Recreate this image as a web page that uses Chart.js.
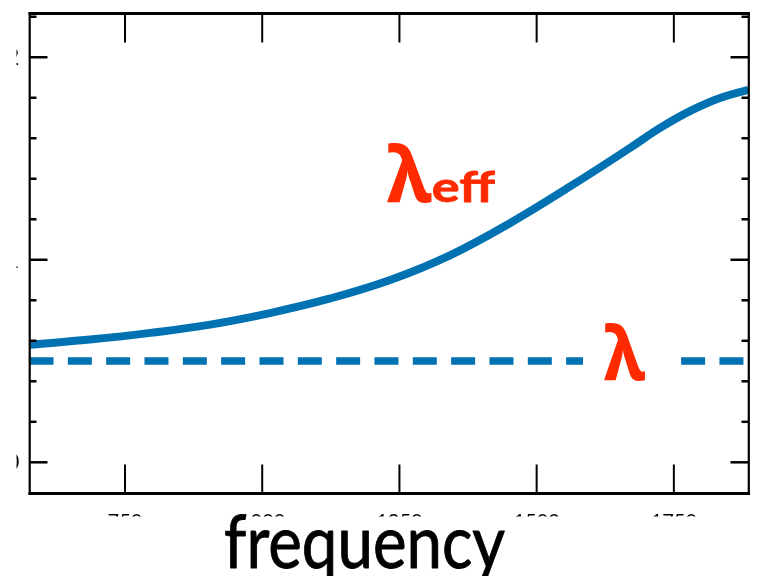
<!DOCTYPE html>
<html>
<head>
<meta charset="utf-8">
<script src="https://cdn.jsdelivr.net/npm/chart.js@4/dist/chart.umd.min.js"></script>
<style>
  html, body { margin: 0; padding: 0; background: #fff; }
  #wrap { width: 763px; height: 576px; position: relative; }
</style>
</head>
<body>
<div id="wrap"><canvas id="c"></canvas></div>
<script>
// Effective wavelength against frequency
const frequency = [576, 686, 796, 905, 1014, 1124, 1233, 1342, 1452, 1561, 1670, 1725, 1780, 1834, 1886];
const lambdaEff = [0.580, 0.606, 0.639, 0.680, 0.737, 0.809, 0.900, 1.022, 1.182, 1.362, 1.552, 1.651, 1.735, 1.799, 1.839];

// Bare wavelength: flat
const lambdaFreq = [576, 1886];
const lambdaBare = [0.5, 0.5];

// Axis ticks
const xTicks = [750, 1000, 1250, 1500, 1750];
const xTickLabels = ['750', '1000', '1250', '1500', '1750'];
const yTicks = [0, 1, 2];
const yTickLabels = ['0', '1', '2'];
const yMinorTicks = [0.2, 0.4, 0.6, 0.8, 1.2, 1.4, 1.6, 1.8, 2.2];

const BLUE = '#0072b2';
const RED = '#ff2a00';

// Draw text stretched to fill a box: [x0, x1] horizontally, glyph top to baseline vertically
function fitText(ctx, text, font, x0, x1, top, base, color, extraStroke) {
  ctx.save();
  ctx.font = font;
  ctx.textAlign = 'left';
  ctx.textBaseline = 'alphabetic';
  const m = ctx.measureText(text);
  const w = m.actualBoundingBoxLeft + m.actualBoundingBoxRight;
  const h = m.actualBoundingBoxAscent;
  ctx.translate(x0, base);
  ctx.scale((x1 - x0) / w, (base - top) / h);
  ctx.fillStyle = color;
  ctx.fillText(text, m.actualBoundingBoxLeft, 0);
  if (extraStroke) {
    ctx.strokeStyle = color;
    ctx.lineWidth = extraStroke;
    ctx.lineJoin = 'round';
    ctx.strokeText(text, m.actualBoundingBoxLeft, 0);
  }
  ctx.restore();
}

function seg(ctx, x1, y1, x2, y2) {
  ctx.beginPath();
  ctx.moveTo(x1, y1);
  ctx.lineTo(x2, y2);
  ctx.stroke();
}

const decorations = {
  id: 'decorations',
  afterDatasetsDraw(chart) {
    const ctx = chart.ctx;
    // label sitting on the dashed line
    ctx.save();
    ctx.fillStyle = '#fff';
    ctx.fillRect(583, 348, 85, 26);
    ctx.restore();
    fitText(ctx, 'λ', 'bold 80px "Noto Sans"', 604, 645, 321, 380, RED);
    // label above the curve
    fitText(ctx, 'λ', 'bold 80px "Noto Sans"', 387, 431.5, 142, 201.5, RED);
    fitText(ctx, 'eff', 'bold 44px Lato', 433, 495, 170, 201.5, RED, 0.8);
  },
  afterDraw(chart) {
    const ctx = chart.ctx;
    const { left, right, top, bottom } = chart.chartArea;
    const xs = chart.scales.x, ys = chart.scales.y;
    ctx.save();
    // clip the outer tick labels
    ctx.fillStyle = '#fff';
    ctx.fillRect(0, 0, 16.5, chart.height);
    ctx.fillRect(0, 516.5, chart.width, chart.height - 516.5);

    ctx.strokeStyle = '#000';
    ctx.lineCap = 'butt';
    // inward ticks, left and right
    ctx.lineWidth = 2.5;
    yTicks.forEach(v => {
      const p = ys.getPixelForValue(v);
      seg(ctx, left, p, left + 18, p);
      seg(ctx, right - 18, p, right, p);
    });
    yMinorTicks.forEach(v => {
      const p = ys.getPixelForValue(v);
      seg(ctx, left, p, left + 7, p);
      seg(ctx, right - 7, p, right, p);
    });
    // inward ticks, bottom and top
    ctx.lineWidth = 2;
    xTicks.forEach(v => {
      const p = xs.getPixelForValue(v);
      seg(ctx, p, bottom, p, bottom - 29);
      seg(ctx, p, top, p, top + 29);
    });
    // frame
    ctx.lineWidth = 2.2;
    seg(ctx, left + 0.2, top - 1.5, left + 0.2, bottom + 1.5);
    seg(ctx, right + 0.3, top - 1.5, right + 0.3, bottom + 1.5);
    ctx.lineWidth = 3;
    seg(ctx, left - 1, top, right + 1.5, top);
    seg(ctx, left - 1, bottom, right + 1.5, bottom);
    ctx.restore();

    // axis title
    fitText(ctx, 'frequency', '72px Lato', 225, 505, 514.5, 568, '#000', 0.9);
  }
};

new Chart(document.getElementById('c'), {
  type: 'line',
  data: {
    datasets: [
      {
        data: frequency.map((f, i) => ({ x: f, y: lambdaEff[i] })),
        borderColor: BLUE,
        borderWidth: 8,
        tension: 0.4,
        pointRadius: 0,
        borderCapStyle: 'butt',
        fill: false
      },
      {
        data: lambdaFreq.map((f, i) => ({ x: f, y: lambdaBare[i] })),
        borderColor: BLUE,
        borderWidth: 7.5,
        borderDash: [24, 14.33],
        borderCapStyle: 'butt',
        pointRadius: 0,
        fill: false
      }
    ]
  },
  options: {
    responsive: true,
    maintainAspectRatio: false,
    animation: false,
    devicePixelRatio: 1,
    layout: { padding: { left: 0, right: 14.5, top: 13.5, bottom: 0 } },
    plugins: { legend: { display: false }, tooltip: { enabled: false } },
    scales: {
      x: {
        type: 'linear',
        min: 576,
        max: 1886,
        grid: { display: false, drawTicks: false },
        border: { display: false },
        afterBuildTicks: s => { s.ticks = xTicks.map(v => ({ value: v })); },
        afterFit: s => { s.height = 82.5; s.paddingLeft = 0; s.paddingRight = 0; },
        ticks: {
          padding: 16,
          color: '#000',
          font: { family: 'Lato', size: 20 },
          maxRotation: 0,
          autoSkip: false,
          callback: v => xTickLabels[xTicks.indexOf(v)]
        }
      },
      y: {
        type: 'linear',
        min: -0.154,
        max: 2.216,
        grid: { display: false, drawTicks: false },
        border: { display: false },
        afterBuildTicks: s => { s.ticks = yTicks.map(v => ({ value: v })); },
        afterFit: s => { s.width = 29.5; s.paddingTop = 0; s.paddingBottom = 0; },
        ticks: {
          padding: 10,
          color: '#000',
          font: { family: 'Lato', size: 24 },
          callback: v => yTickLabels[yTicks.indexOf(v)]
        }
      }
    }
  },
  plugins: [decorations]
});
</script>
</body>
</html>
